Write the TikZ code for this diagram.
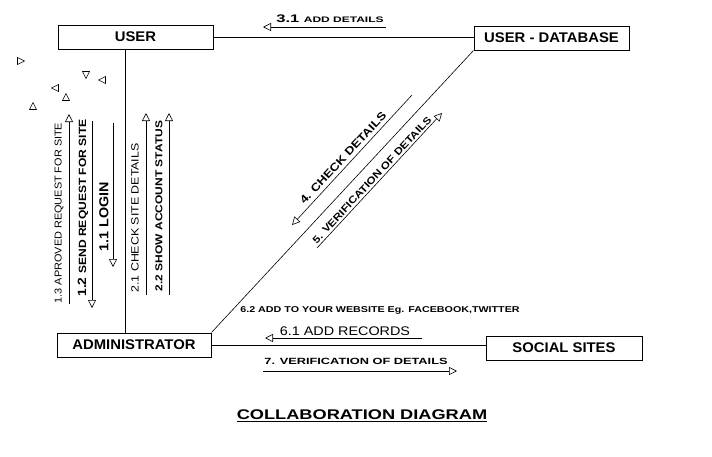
\documentclass[tikz,border=0pt]{standalone}
\usepackage{fontspec}
\setmainfont{Liberation Sans}
\usepackage{graphicx}
\usetikzlibrary{arrows.meta}
\newcommand{\hsc}[2]{\scalebox{#1}[1]{#2}}
\newcommand{\fsz}[1]{\fontsize{#1}{#1}\selectfont}
\begin{document}
\begin{tikzpicture}[x=1pt,y=-1pt,
  box/.style={draw, line width=1pt, minimum width=155pt, minimum height=24pt, inner sep=0pt, font=\bfseries\fsz{14}},
  link/.style={line width=0.6pt},
  msg/.style={line width=0.6pt, -{Triangle[open, length=8pt, width=8pt, line width=0.6pt]}},
  lbl/.style={inner sep=0pt},
  tri/.style={line width=0.6pt}]
\useasboundingbox (0,0) rectangle (712,456);
\fill[white] (0,0) rectangle (712,456);

% objects
\node[box] (user) at (135.5,37) {\hsc{1.06}{USER}};
\node[box] (userdb) at (551.5,38) {\hsc{1.06}{USER - DATABASE}};
\node[box, minimum width=154pt] (admin) at (134,345) {\hsc{1.06}{ADMINISTRATOR}};
\node[box, minimum width=156pt] (social) at (564,348) {\hsc{1.06}{SOCIAL SITES}};

% links
\draw[link] (user.east) -- (user.east -| userdb.west);
\draw[link] ([xshift=-10.5pt]user.south) -- ([xshift=-10.5pt]user.south |- admin.north);
\draw[link] (admin.north east) -- (userdb.south west);
\draw[link] (admin.east) -- (admin.east -| social.west);

% 3.1
\coordinate (a31s) at (386,27); \coordinate (a31e) at (263,27);
\draw[msg] (a31s) -- (a31e);
\node[lbl] (t31) at (330,19) {\hsc{1.5}{\bfseries\fsz{11}3.1 \fsz{8}ADD DETAILS}};

% vertical messages
\coordinate (a13s) at (69,304); \coordinate (a13e) at (69,114);
\draw[msg] (a13s) -- (a13e);
\node[lbl, rotate=90] (t13) at (59,213) {\hsc{1.09}{\fsz{10}1.3 APROVED REQUEST FOR SITE}};

\coordinate (a12s) at (92,121); \coordinate (a12e) at (92,308);
\draw[msg] (a12s) -- (a12e);
\node[lbl, rotate=90] (t12) at (83,208) {\hsc{1.15}{\bfseries\fsz{12}1.2 \fsz{10.5}SEND REQUEST FOR SITE}};

\coordinate (a11s) at (113,123); \coordinate (a11e) at (113,267);
\draw[msg] (a11s) -- (a11e);
\node[lbl, rotate=90] (t11) at (104,217) {\hsc{1.1}{\bfseries\fsz{13}1.1 LOGIN}};

\coordinate (a21s) at (146,295); \coordinate (a21e) at (146,113);
\draw[msg] (a21s) -- (a21e);
\node[lbl, rotate=90] (t21) at (135,218) {\hsc{1.18}{\fsz{10.5}2.1 CHECK SITE DETAILS}};

\coordinate (a22s) at (169,295); \coordinate (a22e) at (169,113);
\draw[msg] (a22s) -- (a22e);
\node[lbl, rotate=90] (t22) at (159,206) {\hsc{1.2}{\bfseries\fsz{10}2.2 SHOW ACCOUNT STATUS}};

% diagonal messages
\coordinate (a4s) at (412,95); \coordinate (a4e) at (292,225);
\draw[msg] (a4s) -- (a4e);
\node[lbl, rotate=47] (t4) at (343,158) {\hsc{1.19}{\bfseries\fsz{11}4. CHECK DETAILS}};

\coordinate (a5s) at (317,248); \coordinate (a5e) at (442,113);
\draw[msg] (a5s) -- (a5e);
\node[lbl, rotate=47] (t5) at (372,180) {\hsc{1.18}{\bfseries\fsz{10}5. VERIFICATION OF DETAILS}};

% bottom messages
\node[lbl] (t62) at (380,310) {\hsc{1.26}{\bfseries\fsz{8.5}6.2 ADD TO YOUR WEBSITE Eg. FACEBOOK,TWITTER}};

\coordinate (a61s) at (422,338); \coordinate (a61e) at (265,338);
\draw[msg] (a61s) -- (a61e);
\node[lbl] (t61) at (345,331) {\hsc{1.15}{\fsz{12.5}6.1 ADD RECORDS}};

\coordinate (a7s) at (263,371); \coordinate (a7e) at (457,371);
\draw[msg] (a7s) -- (a7e);
\node[lbl] (t7) at (356,361) {\hsc{1.42}{\bfseries\fsz{9}7. VERIFICATION OF DETAILS}};

% stray triangles
\foreach \px/\py/\ang in {21/61/0, 86/75/-90, 102/80/180, 55/88/180, 66/97/90, 33/106/90}
  \draw[tri, shift={(\px,\py)}, rotate=\ang] (-3.5,-3.5) -- (3.5,0) -- (-3.5,3.5) -- cycle;

% title
\node[lbl] (title) at (362,416) {\hsc{1.3}{\bfseries\fsz{14}\underline{COLLABORATION DIAGRAM}}};
\end{tikzpicture}
\end{document}
